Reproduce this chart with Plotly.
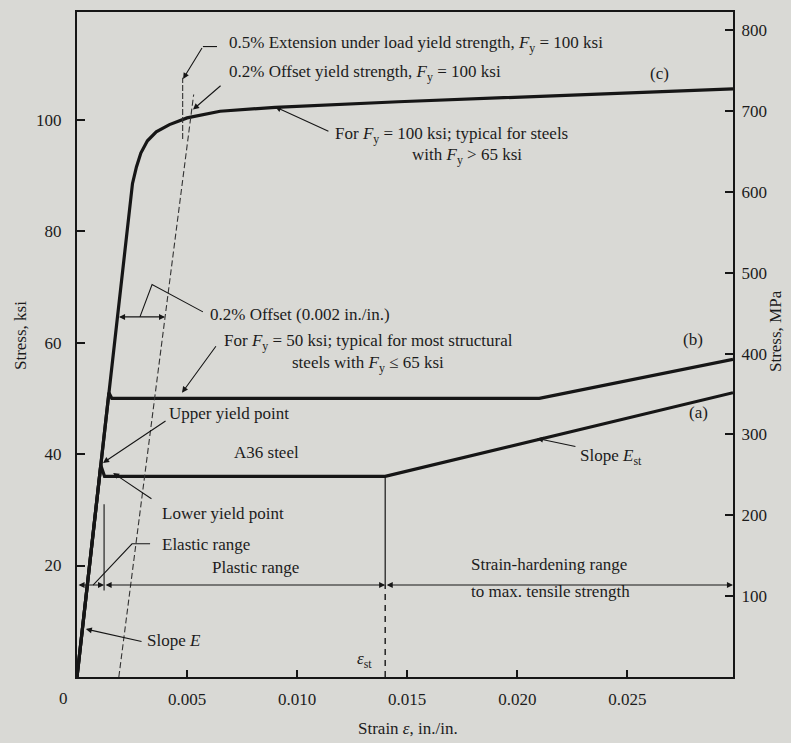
import plotly.graph_objects as go

# ---------------- data ----------------
# curve (a): A36 steel
strain_a = [0, 0.00108, 0.00125, 0.0140, 0.0298]
stress_a = [0, 38.0, 36.0, 36.0, 51.0]
# curve (b): Fy = 50 ksi
strain_b = [0, 0.00145, 0.00158, 0.0210, 0.0298]
stress_b = [0, 51.0, 50.0, 50.0, 57.0]
# curve (c): Fy = 100 ksi
strain_c = [0, 0.00252, 0.0027, 0.0029, 0.0032, 0.0036, 0.0042, 0.0050, 0.0065, 0.0090, 0.0146, 0.0298]
stress_c = [0, 88.5, 91.5, 94.0, 96.2, 97.8, 99.1, 100.3, 101.5, 102.2, 103.2, 105.5]
# 0.2 % offset line and 0.5 % extension line
offset_strain = [0.0019, 0.0053]
offset_stress = [0, 104.5]
ext_strain = [0.0048, 0.0048]
ext_stress = [96.5, 107.5]
# range markers
eps_el = 0.00123          # end of elastic range
eps_st = 0.0140           # start of strain hardening
eps_max = 0.0298
dim_stress = 16.5          # level of the range dimension arrows
el_marker_stress = [15.5, 31.0]
st_marker_solid = [16.5, 36.0]
st_marker_dash = [0, 16.5]
# offset measurement arrow (0.002 in./in.)
offs_meas_strain = [0.00184, 0.0040]
offs_meas_stress = 64.6
offs_bracket_strain = [0.00572, 0.00341, 0.00286]
offs_bracket_stress = [65.5, 70.4, 64.6]
elastic_leader_strain = [0.00332, 0.00250, 0.00073]
elastic_leader_stress = [23.9, 23.9, 16.5]
ext_leader_strain = [0.00636, 0.00572]
ext_leader_stress = [113.1, 113.1]

# axes
x_range = [0, 0.0298]
y_range = [0, 119.3]
KSI_TO_MPA = 6.895
x_tickvals = [0.005, 0.010, 0.015, 0.020, 0.025]
x_ticktext = ["0.005", "0.010", "0.015", "0.020", "0.025"]
ksi_ticks = [20, 40, 60, 80, 100]
mpa_ticks = [100, 200, 300, 400, 500, 600, 700, 800]

INK = "#161616"
TXT = "#1c1c1c"
BG = "#d9d9d5"
FONT = "Liberation Serif"
FS = 17

fig = go.Figure()

def line(xs, ys, width=3.2, dash="solid", color=INK):
    fig.add_trace(go.Scatter(x=xs, y=ys, mode="lines", line=dict(color=color, width=width, dash=dash),
                             hoverinfo="skip", showlegend=False))

line(strain_a, stress_a)
line(strain_b, stress_b)
line(strain_c, stress_c)
line(offset_strain, offset_stress, width=1.1, dash="6px,3px", color="#333")
line(ext_strain, ext_stress, width=1.1, dash="6px,2px", color="#333")
line([eps_el, eps_el], el_marker_stress, width=1.1)
line([eps_st, eps_st], st_marker_solid, width=1.2)
line([eps_st, eps_st], st_marker_dash, width=1.4, dash="6px,5px")
line(offs_bracket_strain, offs_bracket_stress, width=1.1)
line(elastic_leader_strain, elastic_leader_stress, width=1.1)
line(ext_leader_strain, ext_leader_stress, width=1.1)

# invisible trace for secondary axis
fig.add_trace(go.Scatter(x=[0], y=[0], yaxis="y2", mode="markers", marker=dict(opacity=0),
                         hoverinfo="skip", showlegend=False))

anns = []

def arrow(hx, hy, tx, ty, both=False, width=1.1):
    anns.append(dict(x=hx, y=hy, ax=tx, ay=ty, xref="x", yref="y", axref="x", ayref="y",
                     text="", showarrow=True, arrowhead=2, arrowsize=1.1, arrowwidth=width,
                     arrowcolor=INK, arrowside="end+start" if both else "end", standoff=0, startstandoff=0))

def label(x, y, text, anchor="left", size=FS):
    anns.append(dict(x=x, y=y, xref="x", yref="y", text=text, showarrow=False, xanchor=anchor,
                     yanchor="middle", font=dict(family=FONT, size=size, color=TXT)))

Fy = "<i>F</i><sub>y</sub>"

# text labels
label(0.00681, 113.5, "0.5% Extension under load yield strength, " + Fy + " = 100 ksi")
label(0.00681, 108.3, "0.2% Offset yield strength, " + Fy + " = 100 ksi")
label(0.02648, 108.3, "(c)", "center")
label(0.01163, 97.3, "For " + Fy + " = 100 ksi; typical for steels")
label(0.01513, 93.4, "with " + Fy + " > 65 ksi")
label(0.00595, 65.0, "0.2% Offset (0.002 in./in.)")
label(0.00659, 60.1, "For " + Fy + " = 50 ksi; typical for most structural")
label(0.00968, 56.2, "steels with " + Fy + " ≤ 65 ksi")
label(0.02798, 60.5, "(b)", "center")
label(0.02821, 47.4, "(a)", "center")
label(0.00409, 47.2, "Upper yield point")
label(0.00859, 40.2, "A36 steel", "center")
label(0.02276, 39.5, "Slope <i>E</i><sub>st</sub>")
label(0.00377, 29.4, "Lower yield point")
label(0.00377, 23.7, "Elastic range")
label(0.00809, 19.6, "Plastic range", "center")
label(0.01781, 20.1, "Strain-hardening range")
label(0.01781, 15.3, "to max. tensile strength")
label(0.00309, 6.5, "Slope <i>E</i>")
label(0.01308, 3.1, "<i>ε</i><sub>st</sub>", "center")

# arrows
arrow(0.00482, 107.3, 0.00572, 113.1)
arrow(0.00527, 101.8, 0.00659, 106.3)
arrow(0.0090, 102.3, 0.01149, 97.8)
arrow(0.00477, 51.0, 0.00636, 59.6)
arrow(0.00118, 38.4, 0.00409, 46.1)
arrow(0.00164, 36.6, 0.00345, 31.8)
arrow(0.0004, 8.6, 0.0030, 6.3)
arrow(0.0209, 42.8, 0.02271, 41.3)
arrow(offs_meas_strain[1], offs_meas_stress, offs_meas_strain[0], offs_meas_stress, both=True)
arrow(eps_el, dim_stress, 0, dim_stress, both=True)
arrow(eps_st, dim_stress, eps_el, dim_stress, both=True)
arrow(eps_max, dim_stress, eps_st, dim_stress, both=True)

L, R, T, B = 77, 58, 10, 66
W, H = 791, 743

def page_title(px, py, text, angle=0):
    anns.append(dict(x=(px - L) / (W - L - R), y=(H - B - py) / (H - T - B), xref="paper", yref="paper",
                     text=text, showarrow=False, textangle=angle, xanchor="center", yanchor="middle",
                     font=dict(family=FONT, size=FS, color=TXT)))

page_title(408, 729, "Strain <i>ε</i>, in./in.")
page_title(20, 335, "Stress, ksi", -90)
page_title(775, 330, "Stress, MPa", -90)
page_title(63, 699, "0")

tickfont = dict(family=FONT, size=FS, color=TXT)
fig.update_layout(
    width=W, height=H,
    margin=dict(l=L, r=R, t=T, b=B, pad=0),
    paper_bgcolor=BG, plot_bgcolor=BG,
    showlegend=False,
    annotations=anns,
    xaxis=dict(range=x_range, tickvals=x_tickvals, ticktext=x_ticktext, ticks="inside", ticklen=7,
               tickwidth=1.5, tickcolor=INK, showgrid=False, zeroline=False, showline=True, linecolor=INK,
               linewidth=2, mirror=True, tickfont=tickfont, ticklabelstandoff=6),
    yaxis=dict(range=y_range, tickvals=ksi_ticks, ticks="inside", ticklen=8, tickwidth=1.5, tickcolor=INK,
               showgrid=False, zeroline=False, showline=True, linecolor=INK, linewidth=2,
               tickfont=tickfont, ticklabelstandoff=10),
    yaxis2=dict(range=[y_range[0] * KSI_TO_MPA, y_range[1] * KSI_TO_MPA], tickvals=mpa_ticks,
                overlaying="y", side="right", ticks="inside", ticklen=8, tickwidth=1.5, tickcolor=INK,
                showgrid=False, zeroline=False, showline=True, linecolor=INK, linewidth=2,
                tickfont=tickfont, ticklabelstandoff=3),
)

fig.write_html("out.html", config={"displayModeBar": False},
               post_script="document.body.style.margin='0';document.body.style.background='%s';" % BG)
